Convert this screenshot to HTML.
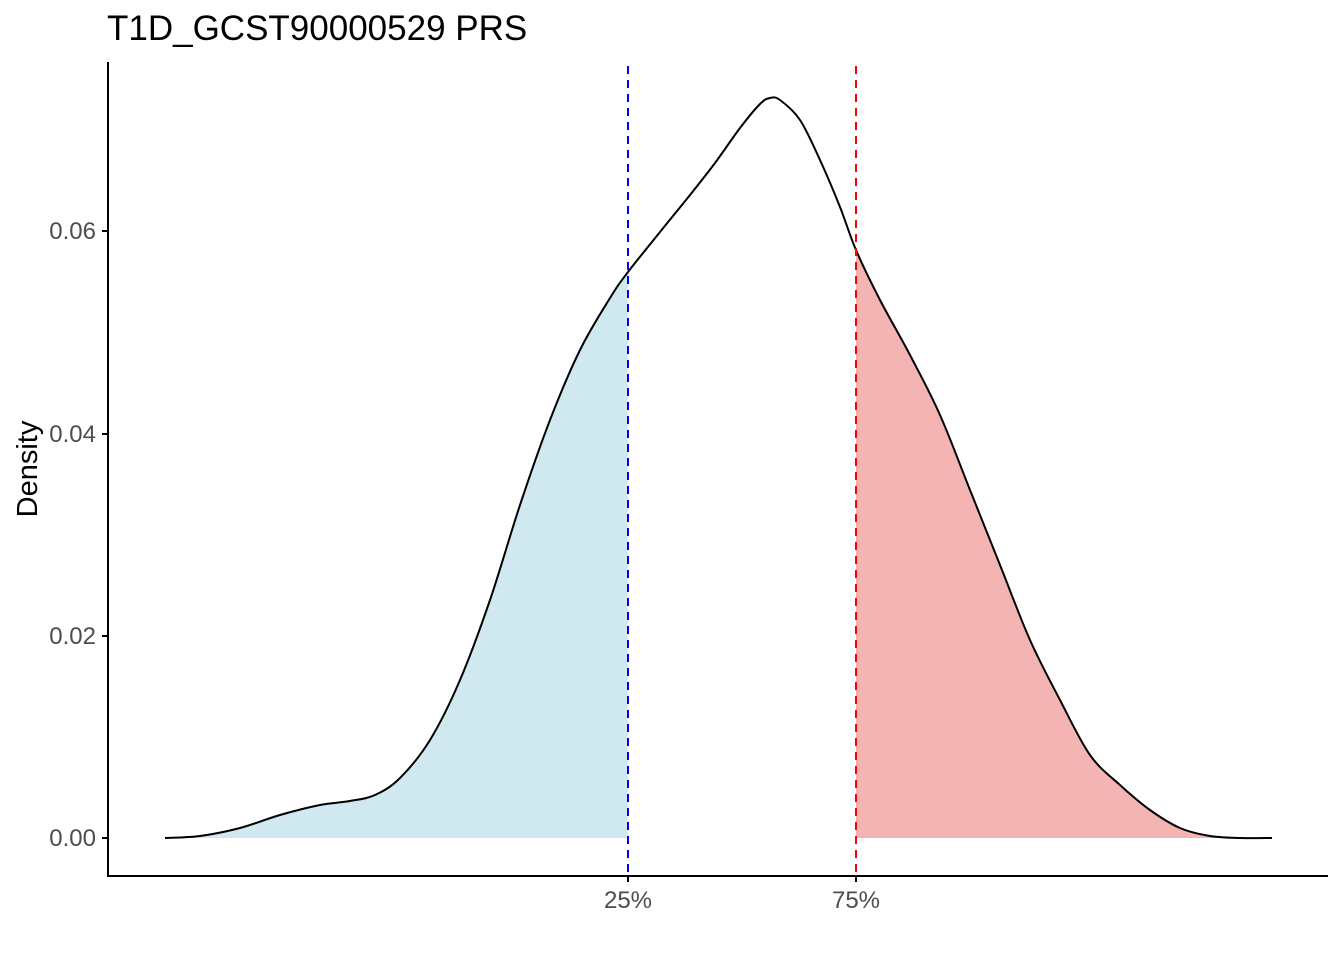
<!DOCTYPE html>
<html><head><style>body{margin:0;background:#fff}svg{display:block}</style></head><body>
<svg id="s" width="1344" height="960" xmlns="http://www.w3.org/2000/svg" font-family="Liberation Sans, Arial, sans-serif">
<defs>
<clipPath id="cb"><rect x="100" y="0" width="528" height="838"/></clipPath>
<clipPath id="cr"><rect x="856" y="0" width="500" height="838"/></clipPath>
</defs>
<path id="fb" clip-path="url(#cb)" fill="#d0e8f0" d=""/>
<path id="fr" clip-path="url(#cr)" fill="#f4b4b4" d=""/>
<path id="ln" fill="none" stroke="#000" stroke-width="2" stroke-linejoin="round" d=""/>
<line x1="628" y1="66" x2="628" y2="876" stroke="#0000ff" stroke-width="2" stroke-dasharray="8,6"/>
<line x1="856" y1="66" x2="856" y2="876" stroke="#ff0000" stroke-width="2" stroke-dasharray="8,6"/>
<g stroke="#000" stroke-width="2">
<line x1="108" y1="62" x2="108" y2="877"/>
<line x1="107" y1="876" x2="1328" y2="876"/>
<line x1="102" y1="838" x2="108" y2="838"/>
<line x1="102" y1="636" x2="108" y2="636"/>
<line x1="102" y1="434" x2="108" y2="434"/>
<line x1="102" y1="231" x2="108" y2="231"/>
<line x1="628" y1="876" x2="628" y2="882"/>
<line x1="856" y1="876" x2="856" y2="882"/>
</g>
<g style="font-size:24px" fill="#4d4d4d" text-anchor="end">
<text x="96" y="846">0.00</text>
<text x="96" y="644">0.02</text>
<text x="96" y="442">0.04</text>
<text x="96" y="239">0.06</text>
</g>
<g style="font-size:24px" fill="#4d4d4d" text-anchor="middle">
<text x="628" y="908">25%</text>
<text x="856" y="908">75%</text>
</g>
<text x="37" y="469" style="font-size:29px" text-anchor="middle" transform="rotate(-90 37 469)">Density</text>
<text x="107" y="40" style="font-size:35px">T1D_GCST90000529 PRS</text>
</svg>
<script>
var p=[[165,838],[200,836],[240,828],[280,815],[320,805],[350,801],[375,795],[400,778],[430,740],[460,680],[490,600],[520,505],[550,420],[580,350],[610,298],[628,272],[660,232],[690,195],[715,163],[740,128],[760,104],[770,98],[780,100],[800,120],[820,160],[840,207],[856,250],[880,300],[910,355],[940,415],[970,490],[1000,565],[1030,640],[1060,700],[1090,755],[1120,785],[1150,810],[1180,828],[1210,836],[1240,838],[1272,838]];
var d="M"+p[0][0]+","+p[0][1];
for(var i=0;i<p.length-1;i++){var a=p[i-1]||p[i],b=p[i],c=p[i+1],e=p[i+2]||c;
d+=" C"+(b[0]+(c[0]-a[0])/6)+","+(b[1]+(c[1]-a[1])/6)+" "+(c[0]-(e[0]-b[0])/6)+","+(c[1]-(e[1]-b[1])/6)+" "+c[0]+","+c[1];}
document.getElementById("ln").setAttribute("d",d);
document.getElementById("fb").setAttribute("d",d+" Z");
document.getElementById("fr").setAttribute("d",d+" Z");
</script>
</body></html>
